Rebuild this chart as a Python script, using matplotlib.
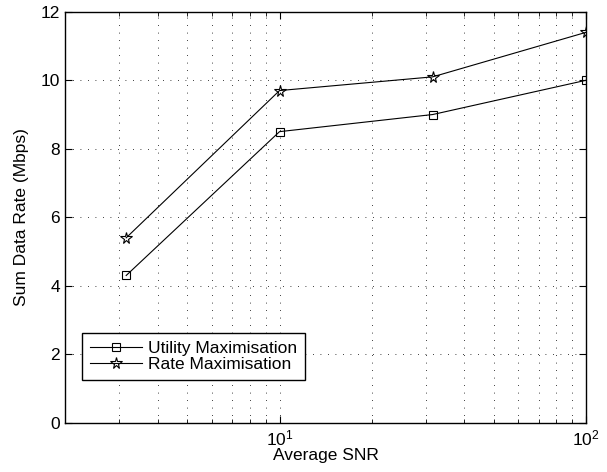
import matplotlib
matplotlib.use("Agg")
import matplotlib.pyplot as plt
from matplotlib.ticker import LogLocator, FixedLocator

plt.rcParams['font.family'] = ['Liberation Sans', 'DejaVu Sans']
plt.rcParams['mathtext.fontset'] = 'custom'
plt.rcParams['mathtext.rm'] = 'Liberation Sans'

snr = [3.16, 10, 31.6, 100]
utility = [4.3, 8.5, 9.0, 10.0]
rate = [5.4, 9.7, 10.1, 11.4]
yticks = [0, 2, 4, 6, 8, 10, 12]

FS = 12.5

fig = plt.figure(figsize=(6.07, 4.72), dpi=100)
ax = fig.add_axes([0.1076, 0.1044, 0.9654 - 0.1076, 0.975 - 0.1044])

ax.plot(snr, utility, color='black', lw=0.8, marker='s', markersize=6,
        markerfacecolor='none', markeredgecolor='black', markeredgewidth=0.8,
        label='Utility Maximisation')
ax.plot(snr, rate, color='black', lw=0.8, marker='*', markersize=8.5,
        markerfacecolor='none', markeredgecolor='black', markeredgewidth=0.8,
        label='Rate Maximisation')

ax.set_xscale('log')
ax.set_xlim(2, 100)
ax.set_ylim(0, 12)
ax.yaxis.set_major_locator(FixedLocator(yticks))
ax.xaxis.set_major_locator(LogLocator(base=10))
ax.xaxis.set_minor_locator(LogLocator(base=10, subs=range(2, 10)))

ax.grid(True, which='major', axis='both', linestyle=(0, (1, 8)), color='black', lw=0.6)
ax.grid(True, which='minor', axis='x', linestyle=(0, (1, 8)), color='black', lw=0.6)

ax.tick_params(which='both', direction='in', top=True, right=True, labelsize=FS)
ax.tick_params(which='major', length=5, pad=4)
ax.tick_params(which='minor', length=3)
for s in ax.spines.values():
    s.set_linewidth(1.0)

ax.set_xlabel('Average SNR', fontsize=FS, labelpad=0)
ax.set_ylabel('Sum Data Rate (Mbps)', fontsize=FS, labelpad=8)

leg = ax.legend(loc='lower left', bbox_to_anchor=(0.033, 0.104), borderaxespad=0,
                fontsize=FS, fancybox=False, edgecolor='black', framealpha=1,
                handlelength=3.0, handletextpad=0.35, borderpad=0.45,
                labelspacing=0.05)
leg.get_frame().set_linewidth(1.0)

fig.savefig('out.png', dpi=100)
